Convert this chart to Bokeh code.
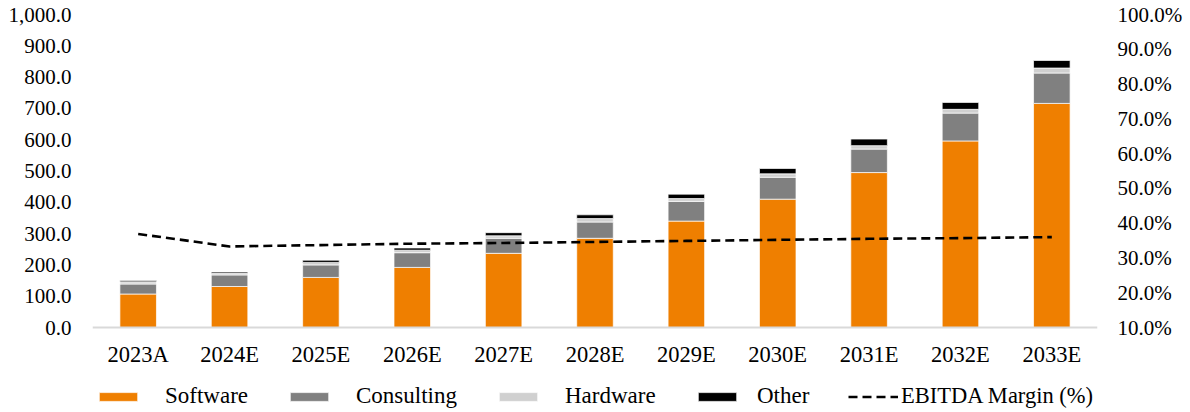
from bokeh.plotting import figure
from bokeh.models import (ColumnDataSource, FactorRange, Range1d, LinearAxis,
                          FixedTicker, NumeralTickFormatter, PrintfTickFormatter,
                          Legend, LegendItem)
from bokeh.embed import file_html
from bokeh.resources import INLINE

# Revenue by segment (stacked) and EBITDA margin
years = ["2023A", "2024E", "2025E", "2026E", "2027E", "2028E",
         "2029E", "2030E", "2031E", "2032E", "2033E"]
software = [107, 131, 160, 192, 237, 285, 340, 410, 495, 596, 716]
consulting = [32, 37, 40, 47, 48, 52, 63, 70, 75, 89, 97]
hardware = [7, 5, 8, 8, 8, 11, 9, 11, 11, 12, 16]
other = [4, 4, 7, 7, 10, 12, 14, 17, 21, 22, 24]
ebitda_margin = [36.9, 33.3, 33.7, 34.1, 34.3, 34.6, 34.9, 35.2, 35.5, 35.7, 36.0]

left_ticks = [0, 100, 200, 300, 400, 500, 600, 700, 800, 900, 1000]
right_ticks = [10, 20, 30, 40, 50, 60, 70, 80, 90, 100]

segments = ["Software", "Consulting", "Hardware", "Other"]
colors = ["#EF7F00", "#808080", "#D0D0D0", "#000000"]
margin_label = "EBITDA Margin (%)"

FONT = "Liberation Serif"

# Canvas geometry: the plotting area spans from the top of the value axis
# down to the canvas bottom so that the key below the axis is drawn inside it.
W, H = 1190, 412
TOP, LEFT, RIGHT = 14, 92, 93
AXIS_PX = 313              # pixels between 0 and 1,000 on the value axis
BELOW_PX = H - TOP - AXIS_PX   # room under the baseline for labels and key

L_MIN, L_MAX = 0, 1000
R_MIN, R_MAX = 10, 100
y_lo = L_MIN - BELOW_PX * (L_MAX - L_MIN) / AXIS_PX
r_lo = R_MIN - BELOW_PX * (R_MAX - R_MIN) / AXIS_PX

source = ColumnDataSource(dict(year=years, Software=software, Consulting=consulting,
                               Hardware=hardware, Other=other, margin=ebitda_margin))

p = figure(width=W, height=H, x_range=FactorRange(*years, range_padding=0),
           y_range=Range1d(y_lo, L_MAX), output_backend="svg", toolbar_location=None,
           min_border_left=LEFT, min_border_right=RIGHT, min_border_top=TOP,
           min_border_bottom=0)
p.extra_y_ranges = {"pct": Range1d(r_lo, R_MAX)}
p.outline_line_color = None
p.xgrid.visible = False
p.ygrid.visible = False

bars = p.vbar_stack(segments, x="year", width=0.4, source=source, color=colors,
                    line_color="white", line_width=1, line_alpha=0.7)

margin_line = p.line(x="year", y="margin", source=source, y_range_name="pct",
                     line_color="black", line_width=2.6, line_dash="9 5")


def style_axis(ax, size, standoff):
    ax.major_tick_line_color = None
    ax.minor_tick_line_color = None
    ax.major_tick_out = 0
    ax.major_tick_in = 0
    ax.minor_tick_out = 0
    ax.minor_tick_in = 0
    ax.major_label_standoff = standoff
    ax.major_label_text_font = FONT
    ax.major_label_text_font_size = size
    ax.major_label_text_color = "black"


# Category axis sits on the zero line
xa = p.xaxis[0]
xa.fixed_location = 0
xa.axis_line_color = "#D9D9D9"
xa.axis_line_width = 2
style_axis(xa, "22.5px", 14)

ya = p.yaxis[0]
ya.ticker = FixedTicker(ticks=left_ticks)
ya.formatter = NumeralTickFormatter(format="0,0.0")
ya.axis_line_color = None
style_axis(ya, "21px", 21)

ra = LinearAxis(y_range_name="pct", ticker=FixedTicker(ticks=right_ticks),
                formatter=PrintfTickFormatter(format="%.1f%%"))
ra.axis_line_color = None
style_axis(ra, "21px", 20)
p.add_layout(ra, "right")

# Key along the bottom, one entry per series (offsets from the plot's left edge)
entries = [(segments[0], bars[0], 2, 23, 48, "23px"),
           (segments[1], bars[1], 193, 23, 48, "23px"),
           (segments[2], bars[2], 402, 23, 48, "23px"),
           (segments[3], bars[3], 601, 16, 48, "23px"),
           (margin_label, margin_line, 756, 3, 50, "22.5px")]
for label, rend, x_off, standoff, gw, fsize in entries:
    lg = Legend(items=[LegendItem(label=label, renderers=[rend])],
                location=(x_off, 3), orientation="horizontal",
                padding=0, margin=0, spacing=0,
                glyph_width=gw, glyph_height=11, label_standoff=standoff,
                label_height=22, label_text_font=FONT,
                label_text_font_size=fsize, label_text_color="black",
                border_line_color=None, background_fill_alpha=0)
    p.add_layout(lg, "center")

open("out.html", "w").write(file_html(p, INLINE))
